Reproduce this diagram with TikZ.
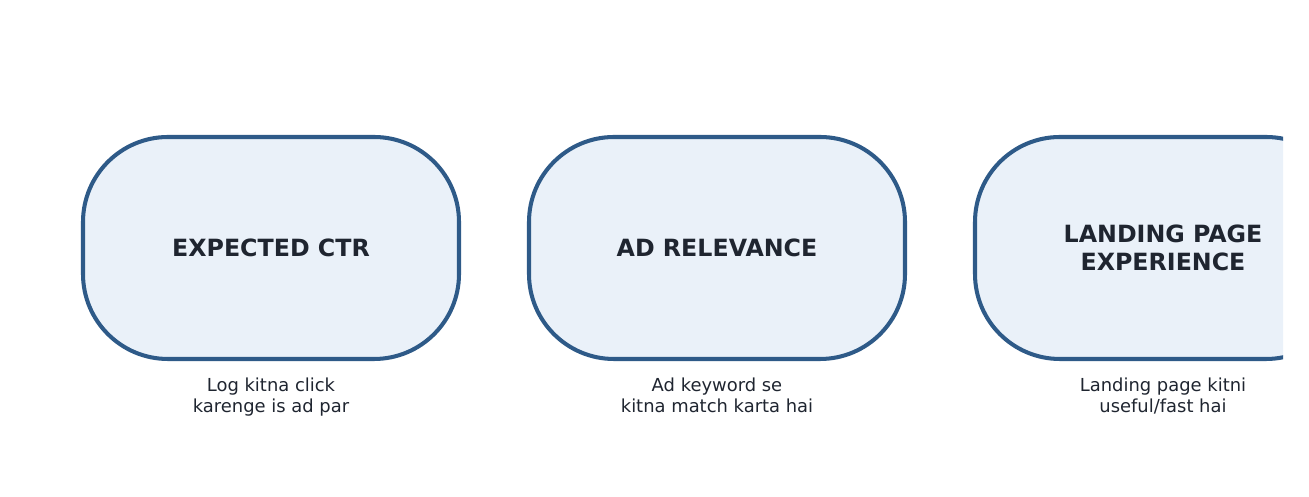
\documentclass[tikz,border=0pt]{standalone}
\usepackage{fontspec}
\setmainfont{DejaVu Sans}
\usetikzlibrary{positioning}
\definecolor{boxline}{HTML}{2E5A88}
\definecolor{boxfill}{HTML}{EAF1F9}
\definecolor{ink}{HTML}{1F2530}
\tikzstyle{metric} = [rectangle, rounded corners=1.7cm, minimum width=7.52cm, minimum height=4.44cm, text centered, align=center, draw=boxline, line width=2.3pt, fill=boxfill, text=ink, font=\fontsize{13.5}{16}\selectfont\bfseries]
\tikzstyle{note} = [align=center, text=ink, font=\fontsize{10.2}{12}\selectfont, inner sep=1pt]
\begin{document}
\begin{tikzpicture}
\useasboundingbox (0,0) rectangle (26.18,9.94);
\begin{scope}
\clip (0,0) rectangle (25.66,9.94);
\node (ctr) [metric] at (5.42,4.98) {EXPECTED CTR};
\node (relevance) [metric] at (14.34,4.98) {AD RELEVANCE};
\node (landing) [metric] at (23.26,4.98) {LANDING PAGE\\EXPERIENCE};
\end{scope}
\node (ctrnote) [note, below=0.3cm of ctr] {Log kitna click\\karenge is ad par};
\node (relevancenote) [note, below=0.3cm of relevance] {Ad keyword se\\kitna match karta hai};
\node (landingnote) [note, below=0.3cm of landing] {Landing page kitni\\useful/fast hai};
\end{tikzpicture}
\end{document}
